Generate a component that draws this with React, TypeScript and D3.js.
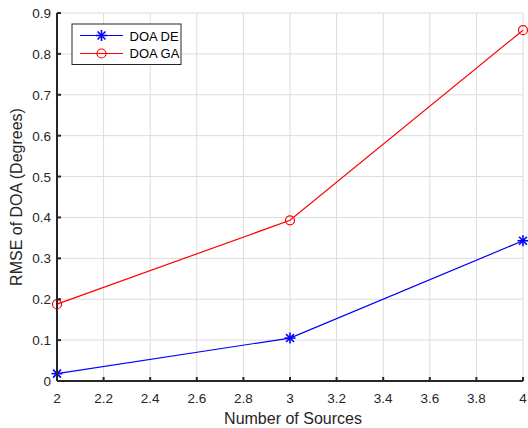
import React from "react";
import * as d3 from "d3";

const sources = [2, 3, 4];
const doaDE = [0.018, 0.105, 0.343];
const doaGA = [0.188, 0.393, 0.858];
const xTicks = [2, 2.2, 2.4, 2.6, 2.8, 3, 3.2, 3.4, 3.6, 3.8, 4];
const yTicks = [0, 0.1, 0.2, 0.3, 0.4, 0.5, 0.6, 0.7, 0.8, 0.9];

const W = 528, H = 428;
const L = 57, R = 523, T = 13, B = 381;
const axisColor = "#262626";
const font = "'Liberation Sans', Arial, sans-serif";

function Star({ x, y, color }: { x: number; y: number; color: string }) {
  const r = 5.5;
  const d = r * 0.72;
  return (
    <g stroke={color} strokeWidth={1.6}>
      <line x1={x - r} y1={y} x2={x + r} y2={y} />
      <line x1={x} y1={y - r} x2={x} y2={y + r} />
      <line x1={x - d} y1={y - d} x2={x + d} y2={y + d} />
      <line x1={x - d} y1={y + d} x2={x + d} y2={y - d} />
    </g>
  );
}

export default function App() {
  const x = d3.scaleLinear().domain([2, 4]).range([L, R]);
  const y = d3.scaleLinear().domain([0, 0.9]).range([B, T]);
  const line = d3.line<number>().x((_, i) => x(sources[i])).y((d) => y(d));
  const fmt = (v: number) => String(+v.toFixed(1));

  return (
    <svg width={W} height={H} style={{ position: "absolute", left: 0, top: 0, background: "#fff" }}>
      <rect width={W} height={H} fill="#fff" />
      {/* grid */}
      {xTicks.map((t) => (
        <line key={"gx" + t} x1={x(t)} x2={x(t)} y1={T} y2={B} stroke="#dcdcdc" strokeWidth={1} />
      ))}
      {yTicks.map((t) => (
        <line key={"gy" + t} x1={L} x2={R} y1={y(t)} y2={y(t)} stroke="#dcdcdc" strokeWidth={1} />
      ))}
      {/* series */}
      <path d={line(doaGA) || ""} fill="none" stroke="#ff0000" strokeWidth={1.2} />
      <path d={line(doaDE) || ""} fill="none" stroke="#0000ff" strokeWidth={1.2} />
      {doaGA.map((v, i) => (
        <circle key={"ga" + i} cx={x(sources[i])} cy={y(v)} r={4.5} fill="none" stroke="#ff0000" strokeWidth={1.2} />
      ))}
      {doaDE.map((v, i) => (
        <Star key={"de" + i} x={x(sources[i])} y={y(v)} color="#0000ff" />
      ))}
      {/* axes */}
      <line x1={L} x2={R} y1={B} y2={B} stroke={axisColor} strokeWidth={2} />
      <line x1={L} x2={L} y1={T} y2={B} stroke={axisColor} strokeWidth={2} />
      {xTicks.map((t) => (
        <g key={"tx" + t}>
          <line x1={x(t)} x2={x(t)} y1={B} y2={B - 4} stroke={axisColor} strokeWidth={2} />
          <text x={x(t)} y={B + 22} textAnchor="middle" fontFamily={font} fontSize={13.5} fill={axisColor}>
            {fmt(t)}
          </text>
        </g>
      ))}
      {yTicks.map((t) => (
        <g key={"ty" + t}>
          <line x1={L} x2={L + 4} y1={y(t)} y2={y(t)} stroke={axisColor} strokeWidth={2} />
          <text x={L - 6} y={y(t) + 5} textAnchor="end" fontFamily={font} fontSize={13.5} fill={axisColor}>
            {fmt(t)}
          </text>
        </g>
      ))}
      <text x={(L + R) / 2 + 3} y={424} textAnchor="middle" fontFamily={font} fontSize={16} fill={axisColor}>
        Number of Sources
      </text>
      <text
        transform={`translate(22,${(T + B) / 2}) rotate(-90)`}
        textAnchor="middle"
        fontFamily={font}
        fontSize={16}
        fill={axisColor}
      >
        RMSE of DOA (Degrees)
      </text>
      {/* legend */}
      <rect x={72} y={24} width={109} height={40.5} fill="#fff" stroke={axisColor} strokeWidth={1} />
      <line x1={80} x2={123} y1={35.5} y2={35.5} stroke="#0000ff" strokeWidth={1.2} />
      <Star x={101.5} y={35.5} color="#0000ff" />
      <text x={129.5} y={40.5} fontFamily={font} fontSize={13} fill="#000">DOA DE</text>
      <line x1={80} x2={123} y1={53.5} y2={53.5} stroke="#ff0000" strokeWidth={1.2} />
      <circle cx={101.5} cy={53.5} r={4.5} fill="none" stroke="#ff0000" strokeWidth={1.2} />
      <text x={129.5} y={58} fontFamily={font} fontSize={13} fill="#000">DOA GA</text>
    </svg>
  );
}
